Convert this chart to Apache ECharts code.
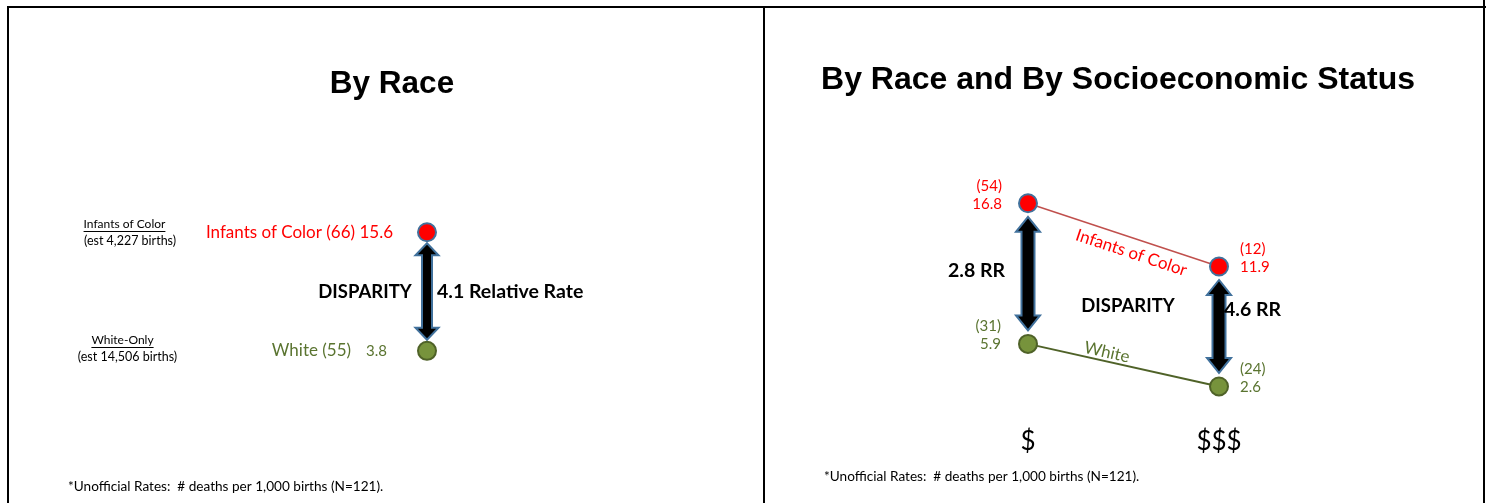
<!DOCTYPE html>
<html>
<head>
<meta charset="UTF-8">
<title>Infant mortality disparity</title>
<script src="https://cdn.jsdelivr.net/npm/echarts@6/dist/echarts.min.js"></script>
<style>
  body { margin: 0; background: #fff; }
  #main { width: 1486px; height: 503px; }
</style>
</head>
<body>
<div id="main"></div>
<script type="text/javascript">
// left panel: by race
var leftGroups = ['Infants of Color', 'White'];
var leftHeads = ['Infants of Color', 'White-Only'];
var leftBirths = ['4,227', '14,506'];
var leftRates = [15.6, 3.8];
var leftDeaths = [66, 55];
var leftRR = 4.1;

// right panel: by race and socioeconomic status
var sesCats = ['$', '$$$'];
var colorRates = [16.8, 11.9];
var colorDeaths = [54, 12];
var whiteRates = [5.9, 2.6];
var whiteDeaths = [31, 24];
var sesRR = [2.8, 4.6];

var footnote = '*Unofficial Rates:  # deaths per 1,000 births (N=121).';

var RED = '#FF0000';
var OLIVE_TXT = '#5A7430';
var GREEN_FILL = '#77933C';
var GREEN_LINE = '#4F6228';
var BLUE_EDGE = '#41719C';
var FONT = 'Lato';

var measure = document.createElement('canvas').getContext('2d');
function textWidth(str, font) {
	measure.font = font;
	return measure.measureText(str).width;
}

// double headed arrow between the two rates of one category
function arrowRenderer(opt) {
	return function(params, api) {
		var i = params.dataIndex;
		var top = api.coord([api.value(0), api.value(2)]);
		var bot = api.coord([api.value(0), api.value(1)]);
		var cx = top[0];
		var ty = top[1] + opt.gap;
		var by = bot[1] - opt.gap;
		var hw = opt.head, sw = opt.shaft, hl = opt.headLen;
		var pts = [
			[cx, ty], [cx + hw, ty + hl], [cx + sw, ty + hl], [cx + sw, by - hl],
			[cx + hw, by - hl], [cx, by], [cx - hw, by - hl], [cx - sw, by - hl],
			[cx - sw, ty + hl], [cx - hw, ty + hl]
		];
		var lab = opt.labels[i];
		return {
			type: 'group',
			children: [{
				type: 'polygon',
				shape: { points: pts },
				style: { fill: '#000', stroke: BLUE_EDGE, lineWidth: 2 }
			}, {
				type: 'text',
				x: cx + lab.dx,
				y: (ty + by) / 2 + lab.dy,
				style: {
					text: lab.text,
					font: 'bold 19.5px ' + FONT,
					fill: '#000',
					align: lab.align,
					verticalAlign: 'middle'
				}
			}]
		};
	};
}

function underlined(text, cx, y) {
	var w = textWidth(text, '12px ' + FONT);
	return [{
		type: 'text', x: cx, y: y,
		style: { text: text, font: '12px ' + FONT, fill: '#000', align: 'center', verticalAlign: 'middle' }
	}, {
		type: 'line',
		shape: { x1: cx - w / 2, y1: y + 7.5, x2: cx + w / 2, y2: y + 7.5 },
		style: { stroke: '#000', lineWidth: 1 }
	}];
}

function plain(text, x, y, font, align, color) {
	return {
		type: 'text', x: x, y: y,
		style: { text: text, font: font, fill: color || '#000', align: align || 'center', verticalAlign: 'middle' }
	};
}

// text laid along the line between the two points of a series
function alongLine(text, values, t, d, color) {
	var a = myChart.convertToPixel({ xAxisIndex: 1, yAxisIndex: 1 }, [0, values[0]]);
	var b = myChart.convertToPixel({ xAxisIndex: 1, yAxisIndex: 1 }, [1, values[1]]);
	var ang = Math.atan2(b[1] - a[1], b[0] - a[0]);
	var px = a[0] + (b[0] - a[0]) * t - Math.sin(ang) * d;
	var py = a[1] + (b[1] - a[1]) * t + Math.cos(ang) * d;
	return {
		type: 'text', x: px, y: py, rotation: -ang,
		style: { text: text, font: '17px ' + FONT, fill: color, align: 'center', verticalAlign: 'middle' }
	};
}

var dom = document.getElementById('main');
var myChart = echarts.init(dom, null, { renderer: 'canvas' });

var graphics = [
	// frame
	{ type: 'line', shape: { x1: 7, y1: 7, x2: 1486, y2: 7 }, style: { stroke: '#000', lineWidth: 2 } },
	{ type: 'line', shape: { x1: 8, y1: 6, x2: 8, y2: 503 }, style: { stroke: '#000', lineWidth: 2 } },
	{ type: 'line', shape: { x1: 764, y1: 6, x2: 764, y2: 503 }, style: { stroke: '#000', lineWidth: 2 } },
	{ type: 'line', shape: { x1: 1484, y1: 0, x2: 1484, y2: 503 }, style: { stroke: '#000', lineWidth: 2 } },
	plain('DISPARITY', 365, 292, 'bold 18.5px ' + FONT),
	plain('DISPARITY', 1128, 306, 'bold 18.5px ' + FONT),
	plain('(est ' + leftBirths[0] + ' births)', 130, 241, '12.5px ' + FONT),
	plain('(est ' + leftBirths[1] + ' births)', 127.5, 357, '12.5px ' + FONT),
	plain(footnote, 68, 487, '13.6px ' + FONT, 'left'),
	plain(footnote, 824, 477, '13.6px ' + FONT, 'left')
].concat(underlined(leftHeads[0], 124.5, 224), underlined(leftHeads[1], 122.5, 340));

var option = {
	animation: false,
	title: [{
		text: 'By Race',
		left: 392, top: 68, textAlign: 'center', padding: 0,
		textStyle: { fontFamily: 'Liberation Sans', fontWeight: 'bold', fontSize: 31.5, color: '#000' }
	}, {
		text: 'By Race and By Socioeconomic Status',
		left: 1118, top: 64, textAlign: 'center', padding: 0,
		textStyle: { fontFamily: 'Liberation Sans', fontWeight: 'bold', fontSize: 32, color: '#000' }
	}],
	grid: [
		{ left: 400, width: 54, top: 188, height: 201 },
		{ left: 1028, width: 191, top: 162, height: 258 }
	],
	xAxis: [{
		gridIndex: 0, type: 'category', data: [''], show: false
	}, {
		gridIndex: 1, type: 'category', data: sesCats, boundaryGap: false,
		axisLine: { show: false }, axisTick: { show: false }, splitLine: { show: false },
		axisLabel: { fontSize: 26, color: '#000', fontFamily: FONT, margin: 9 }
	}],
	yAxis: [
		{ gridIndex: 0, type: 'value', min: 0, max: 20, show: false },
		{ gridIndex: 1, type: 'value', min: 0, max: 20, show: false }
	],
	series: [{
		type: 'custom',
		xAxisIndex: 0, yAxisIndex: 0,
		data: [[0, leftRates[1], leftRates[0]]],
		renderItem: arrowRenderer({
			gap: 11, head: 11.5, shaft: 5, headLen: 12,
			labels: [{ text: leftRR + ' Relative Rate', dx: 10, dy: 0, align: 'left' }]
		}),
		z: 1
	}, {
		name: leftGroups[0],
		type: 'scatter',
		xAxisIndex: 0, yAxisIndex: 0,
		symbolSize: 18,
		itemStyle: { color: RED, borderColor: BLUE_EDGE, borderWidth: 2, opacity: 1 },
		label: {
			show: true, position: 'left', distance: 24,
			color: RED, fontSize: 17, fontFamily: FONT,
			formatter: leftGroups[0] + ' (' + leftDeaths[0] + ') ' + leftRates[0]
		},
		data: [[0, leftRates[0]]],
		z: 3
	}, {
		name: leftGroups[1],
		type: 'scatter',
		xAxisIndex: 0, yAxisIndex: 0,
		symbolSize: 18,
		itemStyle: { color: GREEN_FILL, borderColor: GREEN_LINE, borderWidth: 2, opacity: 1 },
		label: {
			show: true, position: 'left', distance: 30,
			color: OLIVE_TXT, fontFamily: FONT,
			formatter: '{a|' + leftGroups[1] + ' (' + leftDeaths[1] + ')}{b|' + leftRates[1] + '}',
			rich: {
				a: { fontSize: 17, fontFamily: FONT, color: OLIVE_TXT, padding: [0, 15, 0, 0] },
				b: { fontSize: 15, fontFamily: FONT, color: OLIVE_TXT }
			}
		},
		data: [[0, leftRates[1]]],
		z: 3
	}, {
		type: 'custom',
		xAxisIndex: 1, yAxisIndex: 1,
		data: sesCats.map(function(c, i) { return [i, whiteRates[i], colorRates[i]]; }),
		renderItem: arrowRenderer({
			gap: 13.5, head: 12, shaft: 6.5, headLen: 15,
			labels: [
				{ text: sesRR[0] + ' RR', dx: -23, dy: -3, align: 'right' },
				{ text: sesRR[1] + ' RR', dx: 5, dy: -17, align: 'left' }
			]
		}),
		z: 1
	}, {
		name: 'Infants of Color',
		type: 'line',
		xAxisIndex: 1, yAxisIndex: 1,
		symbol: 'circle', symbolSize: 18,
		lineStyle: { color: '#C0504D', width: 1.5 },
		itemStyle: { color: RED, borderColor: BLUE_EDGE, borderWidth: 2 },
		data: colorRates.map(function(v, i) {
			return {
				value: v,
				label: {
					show: true,
					position: i === 0 ? 'left' : 'right',
					distance: i === 0 ? 16 : 11,
					offset: [0, -8.5],
					align: i === 0 ? 'right' : 'left',
					color: RED, fontSize: 15, fontFamily: FONT, lineHeight: 18,
					formatter: '(' + colorDeaths[i] + ')\n' + v
				}
			};
		}),
		z: 3
	}, {
		name: 'White',
		type: 'line',
		xAxisIndex: 1, yAxisIndex: 1,
		symbol: 'circle', symbolSize: 18,
		lineStyle: { color: GREEN_LINE, width: 2 },
		itemStyle: { color: GREEN_FILL, borderColor: GREEN_LINE, borderWidth: 2 },
		data: whiteRates.map(function(v, i) {
			return {
				value: v,
				label: {
					show: true,
					position: i === 0 ? 'left' : 'right',
					distance: i === 0 ? 17 : 11,
					offset: [0, -8.5],
					align: i === 0 ? 'right' : 'left',
					color: OLIVE_TXT, fontSize: 15, fontFamily: FONT, lineHeight: 18,
					formatter: '(' + whiteDeaths[i] + ')\n' + v
				}
			};
		}),
		z: 3
	}],
	graphic: graphics
};

if (option && typeof option === 'object') {
	myChart.setOption(option, true);
	myChart.setOption({
		graphic: graphics.concat([
			alongLine('Infants of Color', colorRates, 0.565, 14.5, RED),
			alongLine('White', whiteRates, 0.403, -9, OLIVE_TXT)
		])
	});
}
</script>
</body>
</html>
